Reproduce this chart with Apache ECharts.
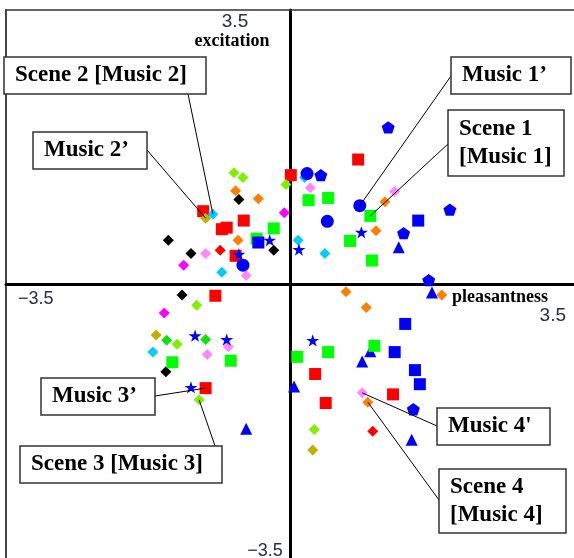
<!DOCTYPE html>
<html><head><meta charset="utf-8">
<script src="https://cdn.jsdelivr.net/npm/echarts@6/dist/echarts.min.js"></script>
<style>html,body{margin:0;padding:0;background:#fff}#c{width:574px;height:558px}</style>
</head><body><div id="c"></div>
<script>
// ---- data (x = pleasantness, y = excitation) ----
const redSquares = [[0.01,1.39],[0.84,1.59],[-1.07,0.93],[-0.57,0.81],[-0.84,0.70],[-0.78,0.72],[-0.67,0.36],[-0.92,-0.15],[-1.04,-1.33],[0.31,-1.15],[0.44,-1.52],[1.27,-1.41]];
const redDiamonds = [[-0.86,0.43],[1.02,-1.88]];
const greenSquares = [[0.23,1.07],[0.47,1.10],[0.99,0.87],[-0.20,0.71],[-0.41,0.58],[0.74,0.55],[1.01,0.30],[-1.45,-1.00],[-0.73,-0.98],[0.09,-0.93],[0.47,-0.87],[1.04,-0.79]];
const greenDiamonds = [[-1.52,-0.72],[-1.04,-0.71]];
const limeDiamonds = [[-0.69,1.42],[-0.58,1.36],[-0.05,1.27],[-1.15,-0.27],[-1.39,-0.77],[-1.12,-1.48],[0.30,-1.86]];
const orangeDiamonds = [[-0.67,1.19],[-0.39,1.09],[1.17,1.05],[1.06,0.68],[-0.64,0.56],[1.87,-0.14],[0.69,-0.10],[0.94,-0.30],[0.96,-1.51]];
const blackDiamonds = [[-0.63,1.08],[-1.50,0.56],[-1.22,0.39],[-0.20,0.43],[-1.33,-0.14],[-1.53,-1.12]];
const magentaDiamonds = [[-0.07,0.91],[-1.31,0.24],[-1.55,-0.37]];
const pinkDiamonds = [[0.25,1.23],[1.29,1.18],[-1.04,0.39],[-0.54,0.11],[-0.76,-0.80],[-1.02,-0.90],[0.89,-1.39]];
const cyanDiamonds = [[-0.95,0.89],[0.18,1.36],[0.10,0.56],[0.43,0.39],[-0.84,0.15],[-1.69,-0.87]];
const oliveDiamonds = [[-1.04,0.84],[-1.65,-0.65],[0.28,-2.12]];
const blueCircles = [[0.21,1.41],[0.86,1.00],[0.46,0.80],[-0.58,0.24]];
const bluePentagons = [[0.38,1.39],[1.21,2.00],[1.97,0.95],[1.40,0.65],[1.71,0.05],[1.52,-1.60]];
const blueSquares = [[-0.39,0.53],[1.58,0.81],[1.42,-0.51],[1.29,-0.87],[1.54,-1.10],[1.60,-1.28]];
const blueStars = [[-0.25,0.56],[-0.63,0.38],[0.11,0.44],[0.88,0.66],[0.28,-0.72],[-1.17,-0.66],[-0.78,-0.71],[-1.22,-1.32]];
const blueTriangles = [[1.34,0.47],[1.75,-0.11],[0.99,-0.86],[0.89,-0.99],[0.05,-1.31],[-0.54,-1.85],[1.50,-1.99]];

const axisRange = [-3.5, 3.5];
const axisTitles = ['pleasantness', 'excitation'];
const tickLabels = { top: '3.5', left: '\u22123.5', right: '3.5', bottom: '\u22123.5' };

// annotation texts and the data point each one points to
const annotations = [
  { text: 'Scene 2 [Music 2]', anchor: cyanDiamonds[0] },
  { text: 'Music 2\u2019', anchor: oliveDiamonds[0] },
  { text: 'Music 1\u2019', anchor: blueCircles[1] },
  { text: 'Scene 1\n[Music 1]', anchor: greenSquares[2] },
  { text: 'Music 3\u2019', anchor: redSquares[8] },
  { text: 'Scene 3 [Music 3]', anchor: limeDiamonds[5] },
  { text: "Music 4'", anchor: pinkDiamonds[6] },
  { text: 'Scene 4\n[Music 4]', anchor: orangeDiamonds[8] }
];
// layout of the boxes: [x, y, w, h], leader line start [x, y]
const boxLayout = [
  { box: [4, 57, 202, 37], from: [188, 94] },
  { box: [33, 132, 114, 37], from: [147, 150] },
  { box: [451, 57, 120, 37], from: [451, 76] },
  { box: [448, 110, 116, 66], from: [449, 143] },
  { box: [41, 378, 114, 37], from: [155, 396] },
  { box: [20, 446, 202, 37], from: [222, 466] },
  { box: [437, 408, 113, 37], from: [437, 426] },
  { box: [439, 469, 127, 64], from: [439, 500] }
];

const STAR = 'path://M50,0 L61.23,34.55 L97.55,34.55 L68.17,55.9 L79.39,90.45 L50,69.1 L20.61,90.45 L31.83,55.9 L2.45,34.55 L38.77,34.55 Z';
const PENT = 'path://M50,0 L97.55,34.55 L79.39,90.45 L20.61,90.45 L2.45,34.55 Z';

const groups = [
  { data: redSquares, symbol: 'rect', color: '#ff0000', size: 12 },
  { data: blackDiamonds, symbol: 'diamond', color: '#000000', size: 11 },
  { data: redDiamonds, symbol: 'diamond', color: '#ff0000', size: 11 },
  { data: limeDiamonds, symbol: 'diamond', color: '#80f000', size: 11 },
  { data: greenDiamonds, symbol: 'diamond', color: '#10e010', size: 11 },
  { data: orangeDiamonds, symbol: 'diamond', color: '#ff8000', size: 11 },
  { data: magentaDiamonds, symbol: 'diamond', color: '#ff00ff', size: 11 },
  { data: pinkDiamonds, symbol: 'diamond', color: '#ff88ff', size: 11 },
  { data: cyanDiamonds, symbol: 'diamond', color: '#00ccff', size: 11 },
  { data: oliveDiamonds, symbol: 'diamond', color: '#c0b000', size: 11 },
  { data: blueTriangles, symbol: 'triangle', color: '#0000ff', size: 12 },
  { data: greenSquares, symbol: 'rect', color: '#00ff00', size: 12 },
  { data: blueSquares, symbol: 'rect', color: '#0000ff', size: 12 },
  { data: blueCircles, symbol: 'circle', color: '#0000ff', size: 13 },
  { data: bluePentagons, symbol: PENT, color: '#0000ff', size: 13 },
  { data: blueStars, symbol: STAR, color: '#0000ff', size: 13 }
];

const chart = echarts.init(document.getElementById('c'), null, { renderer: 'canvas' });
const G = { left: 6, top: 10, width: 568, height: 552 };

function hidden(extra) {
  return Object.assign({
    type: 'value', min: axisRange[0], max: axisRange[1],
    axisLabel: { show: false }, axisTick: { show: false }, splitLine: { show: false }
  }, extra);
}

chart.setOption({
  animation: false,
  grid: Object.assign({ show: false, containLabel: false }, G),
  xAxis: [
    hidden({ axisLine: { onZero: true, lineStyle: { color: '#000', width: 3 } } }),
    hidden({ position: 'top', axisLine: { onZero: false, lineStyle: { color: '#333', width: 1.5 } } })
  ],
  yAxis: [
    hidden({ axisLine: { onZero: true, lineStyle: { color: '#000', width: 3 } } }),
    hidden({ position: 'left', offset: 0, axisLine: { onZero: false, lineStyle: { color: '#444', width: 2 } } })
  ],
  series: groups.map(g => ({
    type: 'scatter', xAxisIndex: 0, yAxisIndex: 0,
    data: g.data, symbol: g.symbol, symbolSize: g.size, symbolKeepAspect: true,
    itemStyle: { color: g.color, opacity: 1 }
  }))
});

// annotations: boxes + leader lines, anchored to data points via the axes
const elems = [];
const boxFont = 'bold 23px "Liberation Serif", "Times New Roman", serif';
annotations.forEach((a, i) => {
  const L = boxLayout[i];
  const p = chart.convertToPixel({ gridIndex: 0 }, a.anchor);
  elems.push({ type: 'line', z: 100, shape: { x1: L.from[0], y1: L.from[1], x2: p[0], y2: p[1] },
    style: { stroke: '#000', lineWidth: 1 } });
  elems.push({ type: 'rect', z: 101, shape: { x: L.box[0], y: L.box[1], width: L.box[2], height: L.box[3] },
    style: { fill: '#fff', stroke: '#333', lineWidth: 1.5 } });
  elems.push({ type: 'text', z: 102, style: { text: a.text, x: L.box[0] + 11, y: L.box[1] + L.box[3] / 2,
    font: boxFont, fill: '#000', textAlign: 'left', textVerticalAlign: 'middle', lineHeight: 28 } });
});
const numFont = '"Liberation Sans", Arial, sans-serif';
elems.push({ type: 'text', z: 90, style: { text: tickLabels.top, x: 235, y: 22, font: '19px ' + numFont, fill: '#2a2e38', textAlign: 'center', textVerticalAlign: 'middle' } });
elems.push({ type: 'text', z: 90, style: { text: tickLabels.left, x: 18, y: 299, font: '18px ' + numFont, fill: '#2a2e38', textAlign: 'left', textVerticalAlign: 'middle' } });
elems.push({ type: 'text', z: 90, style: { text: tickLabels.right, x: 566, y: 316, font: '19px ' + numFont, fill: '#2a2e38', textAlign: 'right', textVerticalAlign: 'middle' } });
elems.push({ type: 'text', z: 90, style: { text: tickLabels.bottom, x: 265, y: 551, font: '18px ' + numFont, fill: '#2a2e38', textAlign: 'center', textVerticalAlign: 'middle' } });
const titleFont = 'bold 18px "Liberation Serif", "Times New Roman", serif';
elems.push({ type: 'text', z: 90, style: { text: axisTitles[1], x: 232, y: 41, font: titleFont, fill: '#000', textAlign: 'center', textVerticalAlign: 'middle' } });
elems.push({ type: 'text', z: 90, style: { text: axisTitles[0], x: 452, y: 297, font: titleFont, fill: '#000', textAlign: 'left', textVerticalAlign: 'middle' } });
chart.setOption({ graphic: { elements: elems } });
</script>
</body></html>
